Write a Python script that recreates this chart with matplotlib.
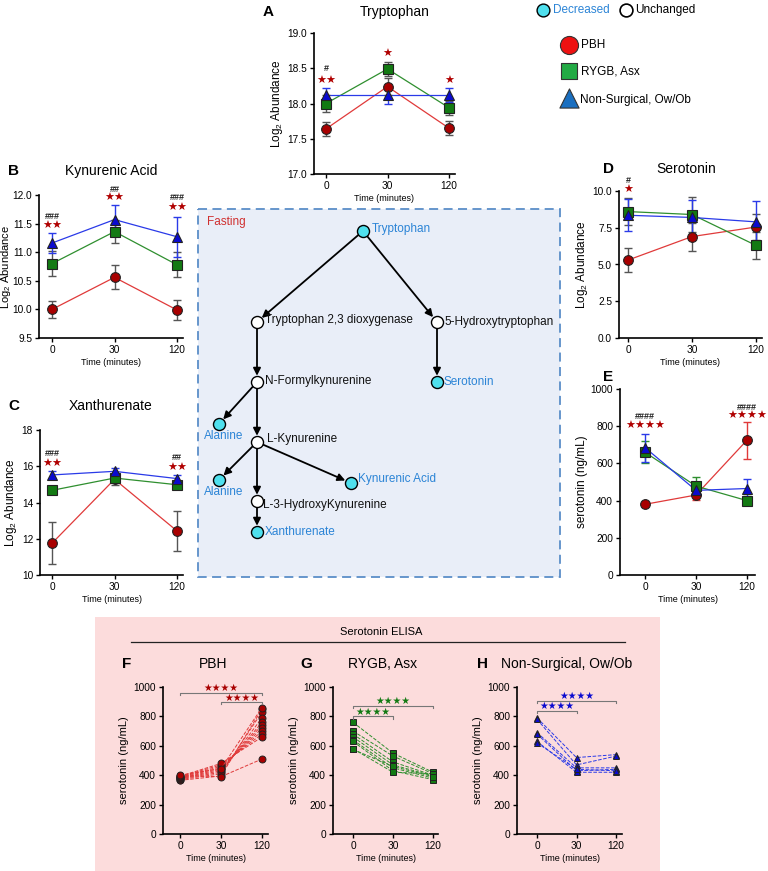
import numpy as np
import matplotlib.pyplot as plt
from matplotlib.patches import Rectangle, FancyArrowPatch

plt.rcParams['font.family'] = ['Liberation Sans', 'DejaVu Sans']
plt.rcParams['mathtext.fontset'] = 'custom'
plt.rcParams['mathtext.rm'] = 'Liberation Sans'

W, H = 768, 871

times = ['0', '30', '120']
groups = ['PBH', 'RYGB', 'NS']

# A - tryptophan (log2 abundance)
trp_mean = [[17.64, 18.24, 17.65], [18.00, 18.49, 17.94], [18.12, 18.12, 18.12]]
trp_err = [[0.10, 0.12, 0.10], [0.12, 0.10, 0.10], [0.10, 0.13, 0.10]]
# B - kynurenic acid
kyn_mean = [[10.00, 10.56, 9.99], [10.80, 11.36, 10.78], [11.16, 11.57, 11.27]]
kyn_err = [[0.15, 0.21, 0.18], [0.22, 0.20, 0.22], [0.18, 0.25, 0.35]]
# C - xanthurenate
xan_mean = [[11.75, 15.28, 12.43], [14.67, 15.35, 14.98], [15.52, 15.72, 15.32]]
xan_err = [[1.15, 0.30, 1.10], [0.15, 0.20, 0.20], [0.20, 0.20, 0.20]]
# D - serotonin (log2 abundance)
ser_mean = [[5.30, 6.90, 7.55], [8.60, 8.40, 6.30], [8.35, 8.20, 7.90]]
ser_err = [[0.80, 0.95, 0.90], [0.90, 1.20, 0.90], [1.10, 1.20, 1.40]]
# E - serotonin ELISA means (ng/mL)
eli_mean = [[380, 430, 725], [660, 478, 400], [685, 455, 465]]
eli_err = [[5, 25, 100], [60, 50, 25], [75, 30, 50]]

# F-H individual subjects (ng/mL) at 0, 30, 120 min
pbh_t0 = [365, 370, 375, 378, 380, 383, 386, 390, 393, 397, 400]
pbh_t30 = [395, 410, 420, 430, 440, 450, 460, 470, 480, 390, 445]
pbh_t120 = [850, 830, 790, 760, 740, 720, 700, 680, 660, 510, 860]
rygb_t0 = [760, 700, 680, 660, 640, 630, 580, 575]
rygb_t30 = [550, 530, 490, 470, 450, 430, 420, 460]
rygb_t120 = [420, 410, 400, 395, 380, 370, 410, 390]
ns_t0 = [790, 780, 690, 680, 630, 620]
ns_t30 = [520, 470, 450, 430, 420, 440]
ns_t120 = [540, 530, 450, 440, 420, 430]

line_col = {'PBH': '#e03a3a', 'RYGB': '#2f8f2f', 'NS': '#2a3ae8'}
face_col = {'PBH': '#a80000', 'RYGB': '#137a13', 'NS': '#0a0ad0'}
mark = {'PBH': 'o', 'RYGB': 's', 'NS': '^'}
star_red = '#b00000'

fig = plt.figure(figsize=(W / 100, H / 100), dpi=100)

# background overlay in pixel coordinates
bg = fig.add_axes([0, 0, 1, 1], zorder=-1)
bg.set_xlim(0, W)
bg.set_ylim(H, 0)
bg.axis('off')


def px_axes(l, t, r, b, p0, p2):
    ax = fig.add_axes([l / W, 1 - b / H, (r - l) / W, (b - t) / H])
    ax.set_facecolor('none')
    s = (p2 - p0) / 2
    ax.set_xlim(-(p0 - l) / s, 2 + (r - p2) / s)
    ax.set_xticks([0, 1, 2])
    ax.set_xticklabels(times)
    for side in ['top', 'right']:
        ax.spines[side].set_visible(False)
    for side in ['left', 'bottom']:
        ax.spines[side].set_linewidth(1.2)
    ax.tick_params(labelsize=7.3, length=3, width=1, pad=2)
    return ax


def ftext(x, y, s, **kw):
    fig.text(x / W, 1 - y / H, s, **kw)


def line_panel(ax, means, errs, ecols, ylim, yticks, fmt, ylabel, ms=7):
    x = np.arange(3)
    for g, m, e, ec in zip(groups, means, errs, ecols):
        ax.plot(x, m, color=line_col[g], lw=0.9, zorder=2)
        ax.errorbar(x, m, yerr=e, fmt='none', ecolor=ec, elinewidth=1,
                    capsize=3, capthick=1, zorder=3)
        ax.plot(x, m, ls='none', marker=mark[g], ms=ms, mfc=face_col[g],
                mec='#222222', mew=0.8, zorder=4)
    ax.set_ylim(*ylim)
    ax.set_yticks(yticks)
    ax.set_yticklabels([fmt % v for v in yticks])
    ax.set_ylabel(ylabel, fontsize=8.5, labelpad=2)
    ax.set_xlabel('Time (minutes)', fontsize=6.5, labelpad=2)


def marks(ax, items):
    for xi, yv, s in items:
        if s.startswith('#'):
            ax.text(xi, yv, s, ha='center', va='center', fontsize=6.5,
                    fontweight='bold', color='#222222', clip_on=False)
        else:
            ax.text(xi, yv, s, ha='center', va='center', fontsize=8,
                    color=star_red, family='DejaVu Sans', clip_on=False)


log2 = r'Log$_\mathrm{2}$ Abundance'
grey_err = ['#555555', '#555555', '#2a3ae8']

# A
axA = px_axes(314, 33, 455, 174, 326, 449)
line_panel(axA, trp_mean, trp_err, grey_err, (17.0, 19.0),
           [17.0, 17.5, 18.0, 18.5, 19.0], '%.1f', log2)
marks(axA, [(0, 18.49, '#'), (0, 18.32, '★★'), (1, 18.70, '★'), (2, 18.32, '★')])
ftext(263, 12, 'A', fontsize=11, fontweight='bold', va='center')
ftext(395, 12, 'Tryptophan', fontsize=10, ha='center', va='center')

# B
axB = px_axes(39, 195, 183, 338, 52, 177)
line_panel(axB, kyn_mean, kyn_err, grey_err, (9.5, 12.0),
           [9.5, 10.0, 10.5, 11.0, 11.5, 12.0], '%.1f', log2)
axB.yaxis.label.set_fontsize(8)
axB.yaxis.set_label_coords((13.5 - 39) / (183 - 39), 0.5)
marks(axB, [(0, 11.62, '###'), (0, 11.46, '★★'), (1, 12.10, '##'), (1, 11.95, '★★'),
            (2, 11.96, '###'), (2, 11.77, '★★')])
ftext(8, 171, 'B', fontsize=11, fontweight='bold', va='center')
ftext(111, 171, 'Kynurenic Acid', fontsize=10, ha='center', va='center')

# C
axC = px_axes(40, 430, 183, 575, 52, 177)
line_panel(axC, xan_mean, xan_err, grey_err, (10, 18),
           [10, 12, 14, 16, 18], '%d', log2)
marks(axC, [(0, 16.70, '###'), (0, 16.10, '★★'), (2, 16.50, '##'), (2, 15.90, '★★')])
ftext(8, 406, 'C', fontsize=11, fontweight='bold', va='center')
ftext(111, 406, 'Xanthurenate', fontsize=10, ha='center', va='center')

# D
axD = px_axes(619, 191, 762, 338, 628, 756)
line_panel(axD, ser_mean, ser_err, grey_err, (0, 10),
           [0.0, 2.5, 5.0, 7.5, 10.0], '%.1f', log2)
marks(axD, [(0, 10.70, '#'), (0, 10.05, '★')])
ftext(603, 169, 'D', fontsize=11, fontweight='bold', va='center')
ftext(686, 169, 'Serotonin', fontsize=10, ha='center', va='center')

# E
axE = px_axes(620, 389, 755, 575, 645, 747)
line_panel(axE, eli_mean, eli_err, ['#e03a3a', '#2f8f2f', '#2a3ae8'], (0, 1000),
           [0, 200, 400, 600, 800, 1000], '%d', 'serotonin (ng/mL)')
marks(axE, [(0, 850, '####'), (0, 800, '★★★★'), (2, 903, '####'), (2, 855, '★★★★')])
ftext(603, 377, 'E', fontsize=11, fontweight='bold', va='center')

# pink ELISA panel and pathway box
bg.add_patch(Rectangle((95, 617), 565, 254, facecolor='#fcdcdc', edgecolor='none'))
bg.plot([131, 625], [642, 642], color='#222222', lw=0.9)
bg.text(381, 632, 'Serotonin ELISA', fontsize=8, ha='center', va='center')

bg.add_patch(Rectangle((198, 209), 362, 368, facecolor='#e9eef8',
                       edgecolor='#5b8ec8', lw=1.3, ls=(0, (5, 3))))
bg.text(207, 222, 'Fasting', fontsize=8.5, color='#d03030', va='center')

blue_txt = '#2b84d6'
nodes = {
    'Tryptophan': (363, 231, True),
    'T23D': (257, 322, False),
    '5HTP': (437, 322, False),
    'NFK': (257, 382, False),
    'Serotonin': (437, 382, True),
    'Ala1': (219, 424, True),
    'LKyn': (257, 442, False),
    'Ala2': (219, 480, True),
    'KynA': (351, 483, True),
    'L3HK': (257, 501, False),
    'Xan': (257, 532, True),
}
edges = [('Tryptophan', 'T23D'), ('Tryptophan', '5HTP'), ('5HTP', 'Serotonin'),
         ('T23D', 'NFK'), ('NFK', 'Ala1'), ('NFK', 'LKyn'), ('LKyn', 'Ala2'),
         ('LKyn', 'KynA'), ('LKyn', 'L3HK'), ('L3HK', 'Xan')]
for a, b in edges:
    xa, ya, _ = nodes[a]
    xb, yb, _ = nodes[b]
    bg.add_patch(FancyArrowPatch((xa, ya), (xb, yb), arrowstyle='-|>',
                                 mutation_scale=11, lw=1.3, color='black',
                                 shrinkA=4.5, shrinkB=4.5))
for k, (x, y, dec) in nodes.items():
    bg.scatter([x], [y], s=75, color='#4fe0ee' if dec else 'white',
               edgecolor='black', lw=1.0, zorder=5)

labels = [
    ('Tryptophan', 372, 229, 'left', True),
    ('Tryptophan 2,3 dioxygenase', 265, 320, 'left', False),
    ('5-Hydroxytryptophan', 444, 322, 'left', False),
    ('N-Formylkynurenine', 265, 381, 'left', False),
    ('Serotonin', 444, 382, 'left', True),
    ('Alanine', 224, 436, 'center', True),
    ('L-Kynurenine', 267, 439, 'left', False),
    ('Alanine', 224, 492, 'center', True),
    ('Kynurenic Acid', 358, 479, 'left', True),
    ('L-3-HydroxyKynurenine', 263, 505, 'left', False),
    ('Xanthurenate', 265, 532, 'left', True),
]
for s, x, y, ha, dec in labels:
    bg.text(x, y, s, fontsize=8.5, ha=ha, va='center',
            color=blue_txt if dec else '#111111', zorder=6)

# legend (top right)
bg.scatter([543], [10], s=85, color='#4fe0ee', edgecolor='black', lw=1.0)
bg.text(553, 10, 'Decreased', fontsize=8.5, color=blue_txt, va='center')
bg.scatter([626], [10], s=85, color='white', edgecolor='black', lw=1.2)
bg.text(635, 10, 'Unchanged', fontsize=8.5, va='center')
bg.scatter([569], [45], s=170, marker='o', color='#ee1111', edgecolor='#333333', lw=0.8)
bg.text(581, 45, 'PBH', fontsize=8.5, va='center')
bg.scatter([569], [71], s=140, marker='s', color='#22aa44', edgecolor='#333333', lw=0.8)
bg.text(581, 71, 'RYGB, Asx', fontsize=8.5, va='center')
bg.scatter([569], [98], s=190, marker='^', color='#1a6fc0', edgecolor='#333333', lw=0.8)
bg.text(580, 100, 'Non-Surgical, Ow/Ob', fontsize=8.5, va='center')


# F-H
def subject_panel(ax, g, t0, t30, t120, brackets):
    x = np.arange(3)
    for a, b, c in zip(t0, t30, t120):
        ax.plot(x, [a, b, c], ls='--', lw=0.7, color=line_col[g],
                marker=mark[g], ms=5, mfc=face_col[g], mec='#222222', mew=0.7)
    ax.set_ylim(0, 1000)
    ax.set_yticks([0, 200, 400, 600, 800, 1000])
    ax.set_ylabel('serotonin (ng/mL)', fontsize=8, labelpad=3)
    ax.set_xlabel('Time (minutes)', fontsize=6.5, labelpad=2)
    for x0, x1, yb, ys in brackets:
        ax.plot([x0, x0, x1, x1], [yb - 15, yb, yb, yb - 15], color='#777777',
                lw=0.8, clip_on=False)
        ax.text((x0 + x1) / 2, ys, '★★★★', ha='center', va='center',
                fontsize=7, color=face_col[g], family='DejaVu Sans', clip_on=False)


axF = px_axes(163, 687, 268, 834, 180, 262)
subject_panel(axF, 'PBH', pbh_t0, pbh_t30, pbh_t120,
              [(0, 2, 960, 992), (1, 2, 900, 928)])
ftext(122, 664, 'F', fontsize=11, fontweight='bold', va='center')
ftext(213, 664, 'PBH', fontsize=10, ha='center', va='center')

axG = px_axes(333, 687, 438, 834, 353, 433)
subject_panel(axG, 'RYGB', rygb_t0, rygb_t30, rygb_t120,
              [(0, 2, 870, 902), (0, 1, 800, 830)])
ftext(300, 664, 'G', fontsize=11, fontweight='bold', va='center')
ftext(383, 664, 'RYGB, Asx', fontsize=10, ha='center', va='center')

axH = px_axes(517, 687, 622, 834, 537, 616)
subject_panel(axH, 'NS', ns_t0, ns_t30, ns_t120,
              [(0, 2, 905, 937), (0, 1, 840, 870)])
ftext(477, 664, 'H', fontsize=11, fontweight='bold', va='center')
ftext(567, 664, 'Non-Surgical, Ow/Ob', fontsize=10, ha='center', va='center')

fig.savefig('out.png', dpi=100)
